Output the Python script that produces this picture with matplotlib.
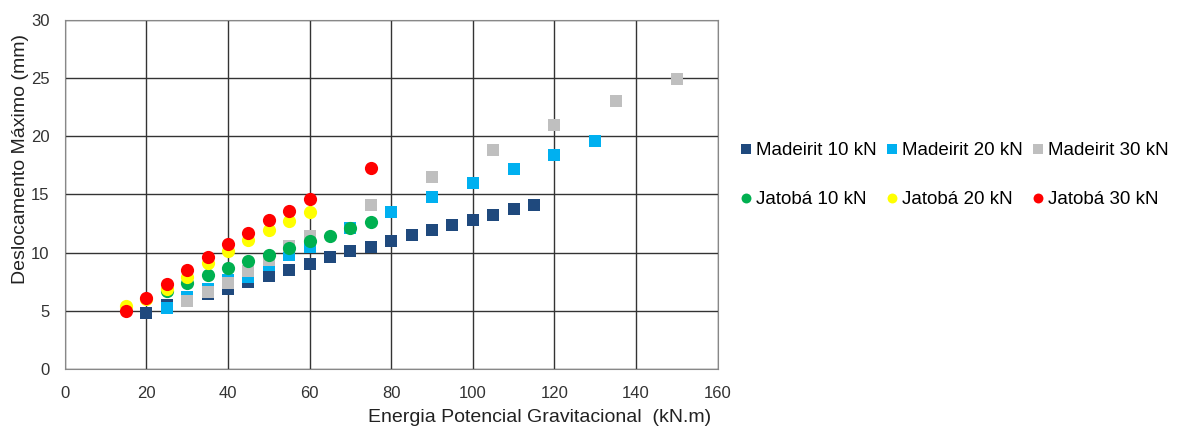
import matplotlib.pyplot as plt

plt.rcParams['font.family'] = ['Liberation Sans', 'DejaVu Sans']

# Madeirit (squares)
mad10_x = [20, 25, 30, 35, 40, 45, 50, 55, 60, 65, 70, 75, 80, 85, 90, 95, 100, 105, 110, 115]
mad10_y = [4.8, 5.5, 6.0, 6.4, 6.9, 7.5, 8.0, 8.5, 9.0, 9.6, 10.1, 10.5, 11.0, 11.5, 11.9, 12.4, 12.8, 13.2, 13.7, 14.1]
mad20_x = [25, 30, 35, 40, 45, 50, 55, 60, 70, 80, 90, 100, 110, 120, 130]
mad20_y = [5.2, 6.2, 6.9, 7.6, 7.9, 8.9, 9.8, 10.5, 12.1, 13.5, 14.8, 16.0, 17.2, 18.4, 19.6]
mad30_x = [30, 35, 40, 45, 50, 55, 60, 75, 90, 105, 120, 135, 150]
mad30_y = [5.8, 6.6, 7.4, 8.4, 9.4, 10.6, 11.4, 14.1, 16.5, 18.8, 21.0, 23.0, 24.9]

# Jatobá (circles)
jat10_x = [25, 30, 35, 40, 45, 50, 55, 60, 65, 70, 75]
jat10_y = [6.7, 7.4, 8.1, 8.7, 9.3, 9.8, 10.4, 11.0, 11.4, 12.1, 12.6]
jat20_x = [15, 20, 25, 30, 35, 40, 45, 50, 55, 60]
jat20_y = [5.4, 6.0, 6.9, 7.9, 9.1, 10.1, 11.1, 11.9, 12.7, 13.5]
jat30_x = [15, 20, 25, 30, 35, 40, 45, 50, 55, 60, 75]
jat30_y = [5.0, 6.1, 7.3, 8.5, 9.6, 10.7, 11.7, 12.8, 13.6, 14.6, 17.3]

series = [
    (mad10_x, mad10_y, "s", "#1F497D", "Madeirit 10 kN"),
    (mad20_x, mad20_y, "s", "#00B0F0", "Madeirit 20 kN"),
    (mad30_x, mad30_y, "s", "#BFBFBF", "Madeirit 30 kN"),
    (jat10_x, jat10_y, "o", "#00B050", "Jatobá 10 kN"),
    (jat20_x, jat20_y, "o", "#FFFF00", "Jatobá 20 kN"),
    (jat30_x, jat30_y, "o", "#FF0000", "Jatobá 30 kN"),
]

fig = plt.figure(figsize=(12, 4.3), dpi=100)
ax = fig.add_axes([0.054, 0.142, 0.544, 0.812])

for x, y, m, c, lab in series:
    ax.plot(x, y, linestyle="None", marker=m, color=c, markersize=9 if m == "s" else 9.5,
            markeredgewidth=0, label=lab)

ax.set_xlim(0, 160)
ax.set_ylim(0, 30)
ax.set_xticks(range(0, 161, 20))
ax.set_yticks(range(0, 31, 5))
ax.grid(True, color="#333333", linewidth=1.0)
ax.set_axisbelow(True)
for s in ax.spines.values():
    s.set_color("#888888")
ax.tick_params(length=0, labelsize=12, colors="#333333")
ax.tick_params(axis="x", pad=12)
ax.tick_params(axis="y", pad=11)
ax.set_xlabel("Energia Potencial Gravitacional  (kN.m)", fontsize=14, color="#222222")
ax.set_ylabel("Deslocamento Máximo (mm)", fontsize=14, color="#222222")
ax.xaxis.set_label_coords(0.727, -0.115)
ax.yaxis.set_label_coords(-0.055, 0.6)

# row-wise order: Madeirit on top row, Jatobá below
h, l = ax.get_legend_handles_labels()
order = [0, 3, 1, 4, 2, 5]
leg = fig.legend([h[i] for i in order], [l[i] for i in order], ncol=3, frameon=False,
                 loc="center left", bbox_to_anchor=(0.6, 0.593),
                 fontsize=13.5, handletextpad=0.0, columnspacing=0.35, labelspacing=1.7,
                 handlelength=1.0, markerscale=0.75)

fig.savefig("out.png", dpi=100)
